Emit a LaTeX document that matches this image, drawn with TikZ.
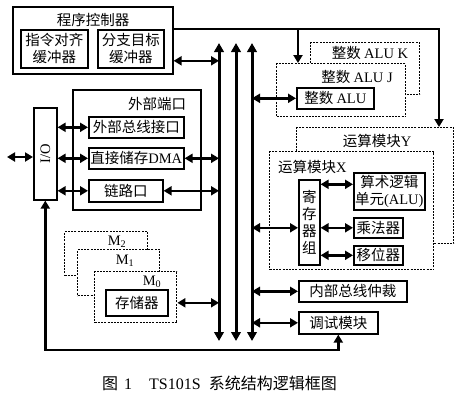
\documentclass[tikz,border=0pt]{standalone}
\usepackage{fontspec}
\setmainfont{Liberation Serif}
\newfontfamily\cjk{Noto Sans CJK SC}
\usetikzlibrary{arrows.meta}
\newcommand\la[1]{{\rmfamily #1}}
\begin{document}
\begin{tikzpicture}[x=1pt,y=-1pt,
 every node/.style={font=\cjk\fontsize{14.5}{17}\selectfont},
 box/.style={draw, line width=1.6pt, fill=white, inner sep=0pt, align=center, anchor=north west},
 dbox/.style={draw, line width=1.4pt, dash pattern=on 2pt off 1.2pt, fill=white, inner sep=0pt, anchor=north west},
 lbl/.style={inner sep=0pt},
 bus/.style={line width=3pt, {Triangle[length=9pt,width=9.5pt]}-{Triangle[length=9pt,width=9.5pt]}},
 dbl/.style={line width=2.6pt, {Triangle[length=8pt,width=9pt]}-{Triangle[length=8pt,width=9pt]}},
 one/.style={line width=2.6pt, -{Triangle[length=8pt,width=9pt]}},
]
\useasboundingbox (0,0) rectangle (461,400);

% program controller
\node[box, minimum width=160pt, minimum height=67pt] (pc) at (12,6) {};
\node[lbl] (pct) at (93,20) {程序控制器};
\node[box, minimum width=67pt, minimum height=38pt] (ib) at (20,29) {指令对齐\\缓冲器};
\node[box, minimum width=66pt, minimum height=38pt] (bb) at (97,29) {分支目标\\缓冲器};

% integer ALUs
\node[dbox, minimum width=109pt, minimum height=52pt] (aluk) at (310,42) {};
\node[lbl] (alukl) at (370,53) {整数 \la{ALU K}};
\node[dbox, minimum width=129pt, minimum height=53pt] (aluj) at (276,63) {};
\node[lbl] (alujl) at (357,77) {整数 \la{ALU J}};
\node[box, minimum width=77pt, minimum height=21pt] (alu) at (296,87) {整数 \la{ALU}};

% compute modules
\node[dbox, minimum width=157pt, minimum height=116pt] (ymod) at (296,127) {};
\node[lbl] (ymodl) at (377,141) {运算模块\la{Y}};
\node[dbox, minimum width=164pt, minimum height=118pt] (xmod) at (269,151) {};
\node[lbl, anchor=west] (xmodl) at (278,167) {运算模块\la{X}};
\node[box, minimum width=21pt, minimum height=85pt] (reg) at (298,179) {寄\\存\\器\\组};
\node[box, minimum width=71pt, minimum height=37pt] (alu2) at (353,172) {算术逻辑\\单元\la{(ALU)}};
\node[box, minimum width=49pt, minimum height=20pt] (mul) at (353,217) {乘法器};
\node[box, minimum width=49pt, minimum height=19pt] (shf) at (353,245) {移位器};

% bus arbitration and debug
\node[box, minimum width=108pt, minimum height=21pt] (arb) at (298,280) {内部总线仲裁};
\node[box, minimum width=79pt, minimum height=22pt] (dbg) at (298,311) {调试模块};

% external port
\node[box, minimum width=128pt, minimum height=120pt] (ep) at (72,89) {};
\node[lbl] (epl) at (157,104) {外部端口};
\node[box, minimum width=95pt, minimum height=21pt] (ebus) at (88,116) {外部总线接口};
\node[box, minimum width=95pt, minimum height=21pt] (dma) at (88,147) {直接储存\la{DMA}};
\node[box, minimum width=74pt, minimum height=22pt] (link) at (88,179) {链路口};

% I/O
\node[box, minimum width=23pt, minimum height=92pt] (io) at (33,107) {\rotatebox{90}{\la{I/O}}};

% memory
\node[dbox, minimum width=83pt, minimum height=44pt] (m2) at (64,231) {};
\node[lbl] (m2l) at (117,242) {\la{M\textsubscript{2}}};
\node[dbox, minimum width=82pt, minimum height=46pt] (m1) at (77,249) {};
\node[lbl] (m1l) at (125,261) {\la{M\textsubscript{1}}};
\node[dbox, minimum width=82pt, minimum height=51pt] (m0) at (94,271) {};
\node[lbl] (m0l) at (152,282) {\la{M\textsubscript{0}}};
\node[box, minimum width=62pt, minimum height=26pt] (mem) at (105,289) {存储器};

% caption
\node[lbl, anchor=west, font=\cjk\fontsize{16}{18}\selectfont] (cap) at (102,383) {图\hspace{6pt}\la{1}\hspace{17pt}\la{TS101S}\hspace{8pt}系统结构逻辑框图};

% bus lines
\coordinate (b1t) at (219,43); \coordinate (b1b) at (219,341);
\coordinate (b2t) at (236,43); \coordinate (b2b) at (236,341);
\coordinate (b3t) at (252,43); \coordinate (b3b) at (252,341);
\draw[bus] (b1b) -- (b1t);
\draw[bus] (b2b) -- (b2t);
\draw[bus] (b3b) -- (b3t);

% top line
\coordinate (tl) at (439,29);
\coordinate (jb) at (298,29);
\draw[one] (pc.east |- tl) -- (tl) -- (tl |- ymod.north);
\draw[one] (jb) -- (jb |- aluj.north);

% program controller to bus
\coordinate (pcd) at ([yshift=-20.5pt]pc.east);
\draw[dbl] (pcd) -- (pcd -| b1t);

% external
\coordinate (ext) at (7,157);
\draw[dbl] (ext) -- (ext -| io.west);
\draw[dbl] (ebus.west -| io.east) -- (ebus.west);
\draw[dbl] (dma.west -| io.east) -- (dma.west);
\draw[dbl] (link.west -| io.east) -- (link.west);
\draw[dbl] (dma.east) -- (dma.east -| b1t);
\draw[dbl] (link.east) -- (link.east -| b1t);
\draw[dbl] (mem.east -| m0.east) -- (mem.east -| b1t);

% right side
\draw[dbl] (alu.west -| b3t) -- (alu.west);
\draw[dbl] (mul.west -| b3t) -- (mul.west -| reg.west);
\draw[dbl] (arb.west -| b3t) -- (arb.west);
\draw[dbl] (dbg.west -| b3t) -- (dbg.west);
\coordinate (a2w) at ([yshift=7pt]alu2.west);
\draw[dbl] (a2w -| reg.east) -- (a2w);
\draw[dbl] (mul.west -| reg.east) -- (mul.west);
\draw[dbl] (shf.west -| reg.east) -- (shf.west);

% bottom loop
\coordinate (bl) at (42,350);
\draw[dbl] (io.south) -- (io.south |- bl) -| (dbg.south);
\end{tikzpicture}
\end{document}
